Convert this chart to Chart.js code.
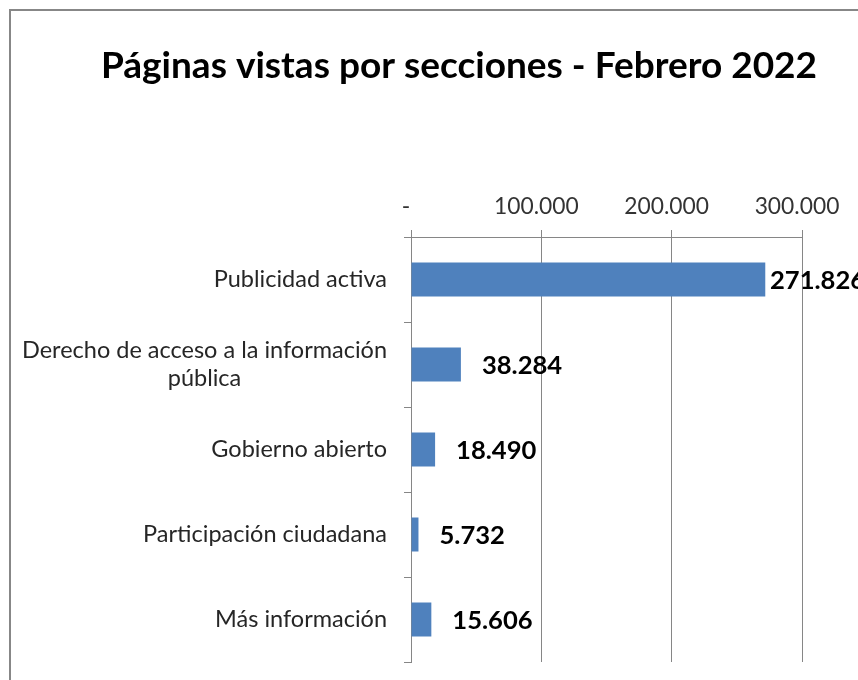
<!DOCTYPE html>
<html>
<head>
<meta charset="utf-8">
<script src="https://cdn.jsdelivr.net/npm/chart.js@4.4.0/dist/chart.umd.min.js"></script>
<style>
html, body { margin: 0; padding: 0; background: #fff; overflow: hidden; }
#box { position: absolute; left: 9px; top: 9px; width: 896px; height: 700px; border: 2px solid #878787; background: #fff; }
</style>
</head>
<body>
<div id="box"><canvas id="chart" width="896" height="700"></canvas></div>
<script>
const chartTitle = 'Páginas vistas por secciones - Febrero 2022';
const categories = [
    'Publicidad activa',
    ['Derecho de acceso a la información', 'pública'],
    'Gobierno abierto',
    'Participación ciudadana',
    'Más información'
];
const pageViews = [271826, 38284, 18490, 5732, 15606];
const tickLabels = ['-', '100.000', '200.000', '300.000'];

const gridColor = '#868686';

function formatNumber(v) {
    return String(v).replace(/\B(?=(\d{3})+(?!\d))/g, '.');
}

const titlePlugin = {
    id: 'excelTitle',
    afterDraw(chart) {
        const ctx = chart.ctx;
        ctx.save();
        ctx.font = 'bold 37px Lato';
        ctx.fillStyle = '#000';
        ctx.textAlign = 'center';
        ctx.textBaseline = 'middle';
        ctx.fillText(chartTitle, chart.width / 2, 55);
        ctx.restore();
    }
};

// category labels: right aligned, extra lines centred under the first
const categoryPlugin = {
    id: 'categoryLabels',
    afterDraw(chart) {
        const ctx = chart.ctx;
        const y = chart.scales.y;
        const right = chart.chartArea.left - 24;
        ctx.save();
        ctx.font = '23.5px Lato';
        ctx.fillStyle = '#262626';
        ctx.textAlign = 'center';
        ctx.textBaseline = 'middle';
        categories.forEach((label, i) => {
            const lines = Array.isArray(label) ? label : [label];
            const w = Math.max(...lines.map(l => ctx.measureText(l).width));
            const cy = y.getPixelForValue(i);
            const lh = 28;
            lines.forEach((line, j) => {
                ctx.fillText(line, right - w / 2, cy + (j - (lines.length - 1) / 2) * lh);
            });
        });
        ctx.restore();
    }
};

const valuePlugin = {
    id: 'valueLabels',
    afterDatasetsDraw(chart) {
        const ctx = chart.ctx;
        const bars = chart.getDatasetMeta(0).data;
        ctx.save();
        ctx.font = 'bold 25.6px Lato';
        ctx.fillStyle = '#000';
        ctx.textAlign = 'left';
        ctx.textBaseline = 'middle';
        bars.forEach((bar, i) => {
            const x = Math.min(bar.x + 21, chart.chartArea.right - 32);
            ctx.fillText(formatNumber(pageViews[i]), x, bar.y + 1);
        });
        ctx.restore();
    }
};

new Chart(document.getElementById('chart'), {
    type: 'bar',
    data: {
        labels: categories,
        datasets: [{
            data: pageViews,
            backgroundColor: '#4f81bd',
            borderWidth: 0,
            categoryPercentage: 1,
            barPercentage: 0.4
        }]
    },
    options: {
        indexAxis: 'y',
        responsive: false,
        animation: false,
        events: [],
        layout: { padding: { top: 96, right: 105, left: 0, bottom: 49 } },
        plugins: {
            legend: { display: false },
            title: { display: false },
            tooltip: { enabled: false }
        },
        scales: {
            x: {
                position: 'top',
                min: 0,
                max: 300000,
                afterFit(scale) { scale.height = 130; },
                afterBuildTicks(scale) {
                    scale.ticks = [0, 100000, 200000, 300000].map(v => ({ value: v }));
                },
                ticks: {
                    callback: (v, i) => tickLabels[i],
                    font: { family: 'Lato', size: 22.8 },
                    color: '#333',
                    padding: 10,
                    labelOffset: -5,
                    maxRotation: 0
                },
                grid: { color: gridColor, tickLength: 7, drawTicks: true },
                border: { display: true, color: gridColor }
            },
            y: {
                offset: true,
                afterFit(scale) { scale.width = 400; },
                ticks: { display: false },
                grid: { offset: true, drawOnChartArea: false, drawTicks: true, tickLength: 7, color: gridColor },
                border: { display: true, color: gridColor }
            }
        }
    },
    plugins: [titlePlugin, categoryPlugin, valuePlugin]
});
</script>
</body>
</html>
